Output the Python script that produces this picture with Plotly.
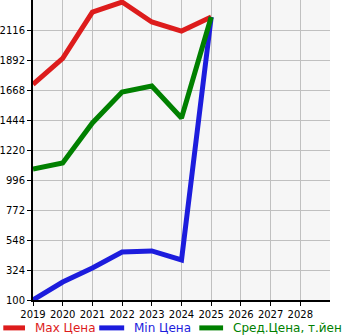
import plotly.graph_objects as go

years = [2019, 2020, 2021, 2022, 2023, 2024, 2025]
max_price = [1710, 1905, 2250, 2325, 2176, 2108, 2213]
min_price = [100, 234, 339, 458, 466, 399, 2213]
avg_price = [1078, 1123, 1422, 1653, 1698, 1459, 2213]
x_ticks = [2019, 2020, 2021, 2022, 2023, 2024, 2025, 2026, 2027, 2028]
y_ticks = [100, 324, 548, 772, 996, 1220, 1444, 1668, 1892, 2116]
series_names = ["Max Цена", "Min Цена", "Сред.Цена, т.йен"]
series_colors = ["#dd1c1c", "#1c1cdd", "#008000"]

fig = go.Figure()
for name, vals, col in zip(series_names, [max_price, min_price, avg_price], series_colors):
    fig.add_trace(go.Scatter(
        x=years, y=vals, mode="lines",
        line=dict(color=col, width=5),
        name=name, showlegend=False,
    ))

# custom legend row under the plot (paper coordinates)
leg_pos = [(-0.1, -0.027, 0.0), (0.223, 0.307, 0.333), (0.56, 0.64, 0.667)]
leg_y = -0.093
for (x0, x1, xt), name, col in zip(leg_pos, series_names, series_colors):
    fig.add_shape(type="line", xref="paper", yref="paper", x0=x0, x1=x1, y0=leg_y, y1=leg_y,
                  line=dict(color=col, width=5))
    fig.add_annotation(xref="paper", yref="paper", x=xt, y=leg_y, text=name,
                       showarrow=False, xanchor="left", yanchor="middle",
                       font=dict(size=12, color=col, family="DejaVu Sans"))

fig.update_layout(
    width=345, height=335,
    margin=dict(l=30, r=15, t=0, b=35),
    paper_bgcolor="white",
    plot_bgcolor="#f6f6f6",
    font=dict(family="DejaVu Sans", size=10, color="black"),
    showlegend=False,
    xaxis=dict(range=[2019, 2029], tickvals=x_ticks, ticktext=[str(v) for v in x_ticks],
               tickangle=0,
               showgrid=True, gridcolor="#c0c0c0", gridwidth=1,
               showline=True, linecolor="black", linewidth=2,
               ticks="outside", ticklen=4, tickcolor="black", zeroline=False),
    yaxis=dict(range=[100, 2340], tickvals=y_ticks, ticktext=[str(v) for v in y_ticks],
               showgrid=True, gridcolor="#c0c0c0", gridwidth=1,
               showline=True, linecolor="black", linewidth=2,
               ticks="outside", ticklen=4, tickcolor="black", zeroline=False),
)
fig.write_html("out.html")
